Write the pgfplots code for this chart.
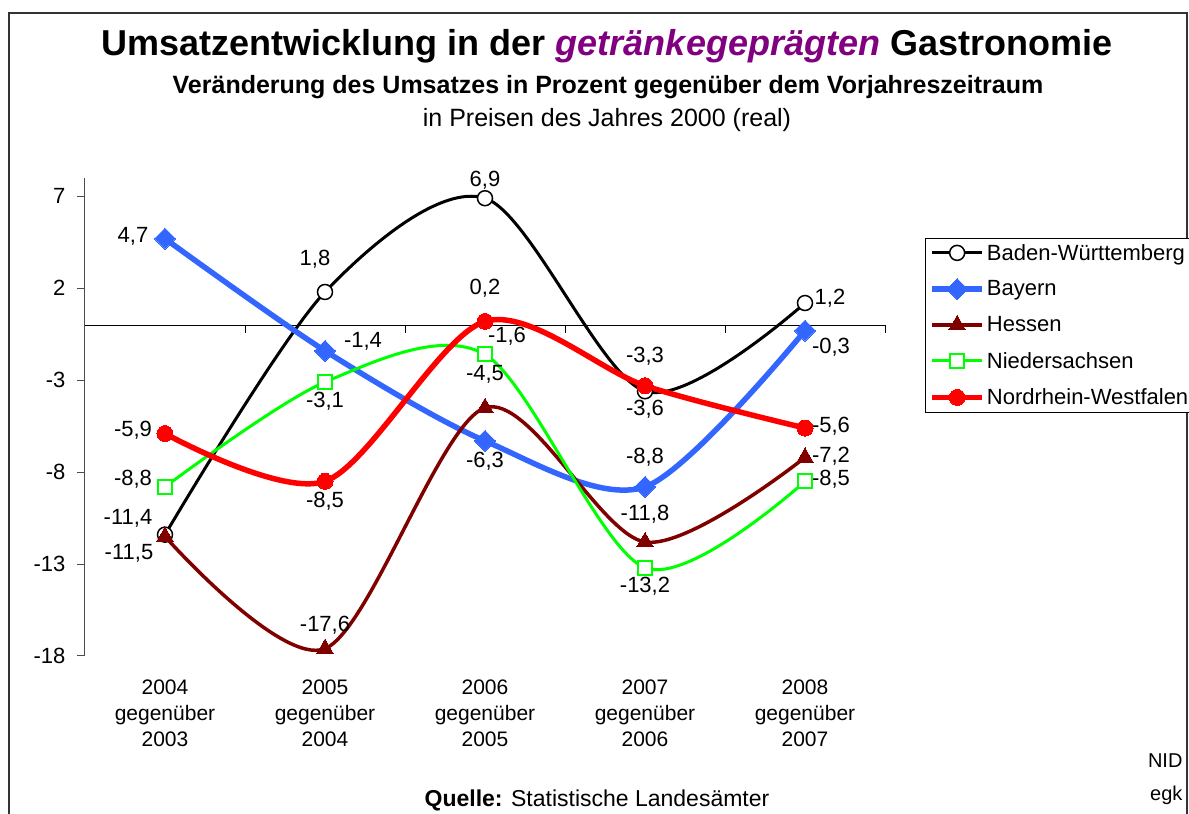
\documentclass[border=0pt]{standalone}
\usepackage{fontspec}
\setmainfont{Liberation Sans}
\usepackage{pgfplots}
\pgfplotsset{compat=1.18}

\definecolor{bayern}{HTML}{3366FF}
\definecolor{hessen}{HTML}{800000}
\definecolor{nds}{HTML}{00FF00}
\definecolor{nrw}{HTML}{FF0000}
\definecolor{lila}{HTML}{800080}

\newcommand{\fs}[1]{\fontsize{#1}{#1}\selectfont}

\begin{document}
\begin{tikzpicture}[x=1pt,y=1pt]
\path[use as bounding box] (0,0) rectangle (1189,814);
% Rahmen
\draw[line width=1.5pt,black!80] (9,0) -- (9,801) -- (1187,801) -- (1187,0);

% Titel
\node at (607,768) {\fs{36}\bfseries Umsatzentwicklung in der \textcolor{lila}{\itshape getränkegeprägten} Gastronomie};
\node at (608,727) {\fs{25}\bfseries Veränderung des Umsatzes in Prozent gegenüber dem Vorjahreszeitraum};
\node at (607,694) {\fs{25}in Preisen des Jahres 2000 (real)};

\begin{axis}[
  at={(85pt,158pt)}, anchor=south west,
  scale only axis, width=800pt, height=478pt,
  xmin=-0.5, xmax=4.5, ymin=-18, ymax=8,
  axis lines=left,
  axis line style={-},
  x axis line style={draw=none},
  y axis line style={black!70, line width=1pt},
  xtick={0,1,2,3,4},
  xticklabels={{2004\\gegenüber\\2003},{2005\\gegenüber\\2004},{2006\\gegenüber\\2005},{2007\\gegenüber\\2006},{2008\\gegenüber\\2007}},
  xticklabel style={align=center, font=\fontsize{21}{26}\selectfont, yshift=-12pt},
  xtick style={draw=none},
  ytick={-18,-13,-8,-3,2,7},
  yticklabels={-18,-13,-8,-3,2,7},
  yticklabel style={font=\fs{22}, xshift=-8pt},
  ytick style={black!70, line width=1pt},
  tick align=outside,
  major tick length=8pt,
  extra y ticks={0},
  extra y tick labels={},
  extra y tick style={grid=major, major grid style={black, line width=1pt}, tick style={draw=none}},
  clip=false,
  legend style={at={(1.05,0.875)}, anchor=north west, draw=black, line width=0.8pt,
    font=\fs{22}, inner xsep=4pt, inner ysep=4pt, row sep=15pt,
    /tikz/every even column/.append style={column sep=2pt}},
  legend cell align=left,
  legend image code/.code={\draw[mark repeat=2,mark phase=2,#1] plot coordinates {(0pt,0pt) (25pt,0pt) (50pt,0pt)};},
]
\addplot[black, line width=3pt, smooth, mark=*, mark size=7.5pt, mark options={fill=white, line width=1.5pt}]
  coordinates {(0,-11.4) (1,1.8) (2,6.9) (3,-3.6) (4,1.2)};
\addlegendentry{Baden-Württemberg}
\addplot[bayern, line width=5.5pt, smooth, mark=diamond*, mark size=10.5pt, mark options={xscale=1.33, line width=0pt}]
  coordinates {(0,4.7) (1,-1.4) (2,-6.3) (3,-8.8) (4,-0.3)};
\addlegendentry{Bayern}
\addplot[hessen, line width=3.5pt, smooth, mark=triangle*, mark size=9.5pt, mark options={line width=0pt}]
  coordinates {(0,-11.5) (1,-17.6) (2,-4.5) (3,-11.8) (4,-7.2)};
\addlegendentry{Hessen}
\addplot[nds, line width=3pt, smooth, mark=square*, mark size=7pt, mark options={fill=white, line width=2pt}]
  coordinates {(0,-8.8) (1,-3.1) (2,-1.6) (3,-13.2) (4,-8.5)};
\addlegendentry{Niedersachsen}
\addplot[nrw, line width=5.5pt, smooth, mark=*, mark size=8pt, mark options={line width=0pt}]
  coordinates {(0,-5.9) (1,-8.5) (2,0.2) (3,-3.3) (4,-5.6)};
\addlegendentry{Nordrhein-Westfalen}

% Teilstriche an der Nulllinie
\pgfplotsinvokeforeach{0.5,1.5,2.5,3.5,4.5}{
  \draw[black, line width=1pt] (axis cs:#1,0) -- ([yshift=-8pt]axis cs:#1,0);
}

% Datenbeschriftungen
\begin{scope}[every node/.style={font=\fs{22}}]
% Baden-Wuerttemberg
\node[xshift=-37pt,yshift=16pt] at (axis cs:0,-11.4) {-11,4};
\node[xshift=-10pt,yshift=33pt] at (axis cs:1,1.8) {1,8};
\node[yshift=18pt] at (axis cs:2,6.9) {6,9};
\node[yshift=-18pt] at (axis cs:3,-3.6) {-3,6};
\node[xshift=25pt,yshift=5pt] at (axis cs:4,1.2) {1,2};
% Bayern
\node[xshift=-32pt,yshift=2pt] at (axis cs:0,4.7) {4,7};
\node[xshift=38pt,yshift=9pt] at (axis cs:1,-1.4) {-1,4};
\node[yshift=-20pt] at (axis cs:2,-6.3) {-6,3};
\node[yshift=30pt] at (axis cs:3,-8.8) {-8,8};
\node[xshift=26pt,yshift=-17pt] at (axis cs:4,-0.3) {-0,3};
% Hessen
\node[xshift=-36pt,yshift=-17pt] at (axis cs:0,-11.5) {-11,5};
\node[yshift=23pt] at (axis cs:1,-17.6) {-17,6};
\node[yshift=33pt] at (axis cs:2,-4.5) {-4,5};
\node[yshift=28pt] at (axis cs:3,-11.8) {-11,8};
\node[xshift=26pt,yshift=1pt] at (axis cs:4,-7.2) {-7,2};
% Niedersachsen
\node[xshift=-32pt,yshift=8pt] at (axis cs:0,-8.8) {-8,8};
\node[yshift=-19pt] at (axis cs:1,-3.1) {-3,1};
\node[xshift=22pt,yshift=18pt] at (axis cs:2,-1.6) {-1,6};
\node[yshift=-18pt] at (axis cs:3,-13.2) {-13,2};
\node[xshift=26pt,yshift=2pt] at (axis cs:4,-8.5) {-8,5};
% Nordrhein-Westfalen
\node[xshift=-32pt,yshift=3pt] at (axis cs:0,-5.9) {-5,9};
\node[yshift=-20pt] at (axis cs:1,-8.5) {-8,5};
\node[yshift=33pt] at (axis cs:2,0.2) {0,2};
\node[yshift=30pt] at (axis cs:3,-3.3) {-3,3};
\node[xshift=26pt,yshift=2pt] at (axis cs:4,-5.6) {-5,6};
\end{scope}
\end{axis}

% Fusszeile
\node at (597,14) {\fs{23}\textbf{Quelle:} Statistische Landesämter};
\node[anchor=east] at (1186,53) {\fs{20}NID};
\node[anchor=east] at (1186,19) {\fs{20}egk};
\end{tikzpicture}
\end{document}
